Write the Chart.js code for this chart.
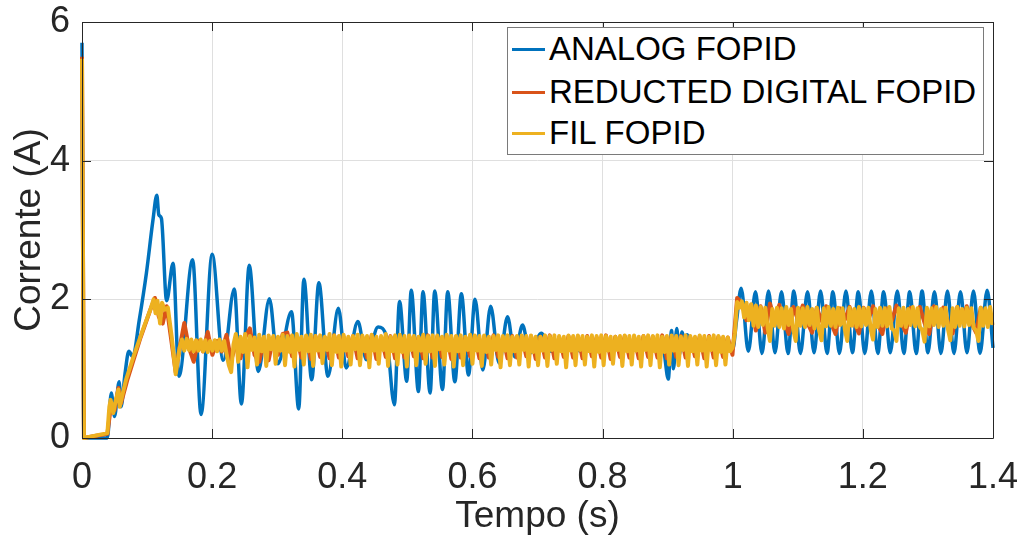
<!DOCTYPE html>
<html lang="pt">
<head>
<meta charset="utf-8">
<title>Corrente - FOPID</title>
<script src="https://cdn.jsdelivr.net/npm/chart.js@4.4.1/dist/chart.umd.min.js"></script>
<style>
    html, body { margin: 0; padding: 0; background: #fff; }
    #area { position: relative; width: 1025px; height: 544px; }
    #legenda {
        position: absolute; left: 507px; top: 27px; width: 475px; height: 126px;
        border: 1px solid #7a7a7a; background: #fff;
        font-family: "Liberation Sans", Arial, sans-serif; font-size: 33px; color: #000;
    }
    .item { position: absolute; left: 4px; height: 40px; display: flex; align-items: center; white-space: nowrap; }
    .linha { display: inline-block; width: 33px; height: 3px; margin-right: 4px; }
</style>
</head>
<body>
<div id="area">
    <canvas id="grafico" width="1025" height="544"></canvas>
    <div id="legenda"></div>
</div>
<script>
// --- Dados ---

const nomesSeries = ['ANALOG FOPID', 'REDUCTED DIGITAL FOPID', 'FIL FOPID'];
const coresSeries = ['#0072BD', '#D95319', '#EDB120'];

// FOPID analógico (picos e vales)
const tempoAnalog = [
    0, 0.003, 0.039, 0.045, 0.050, 0.057, 0.060, 0.066, 0.072, 0.078,
    0.088, 0.099, 0.109, 0.115, 0.118, 0.122, 0.130, 0.140, 0.149, 0.170,
    0.183, 0.200, 0.217, 0.234, 0.245, 0.257, 0.271, 0.288, 0.301, 0.322,
    0.333, 0.341, 0.353, 0.364, 0.378, 0.394, 0.406, 0.424, 0.437, 0.455,
    0.468, 0.480, 0.488, 0.499, 0.506, 0.517, 0.524, 0.535, 0.542, 0.554,
    0.562, 0.573, 0.583, 0.594, 0.604, 0.616, 0.628, 0.641, 0.654, 0.665,
    0.677, 0.688, 0.706, 0.720, 0.740, 0.760, 0.800, 0.850, 0.893, 0.901,
    0.906, 0.909, 0.914, 0.918, 0.922, 0.927, 0.930, 0.940, 0.970, 1.000,
    1.006, 1.013, 1.024, 1.035, 1.045, 1.055, 1.065, 1.075, 1.085, 1.094,
    1.104, 1.115, 1.125, 1.135, 1.145, 1.154, 1.164, 1.174, 1.184, 1.193,
    1.203, 1.213, 1.223, 1.232, 1.242, 1.253, 1.263, 1.272, 1.282, 1.291,
    1.300, 1.310, 1.320, 1.330, 1.340, 1.350, 1.360, 1.370, 1.380, 1.391,
    1.400
];
const correnteAnalog = [
    5.70, 0.00, 0.00, 0.65, 0.31, 0.81, 0.45, 0.92, 1.25, 1.17,
    1.70, 2.38, 3.14, 3.50, 3.22, 3.17, 1.98, 2.52, 0.89, 2.57,
    0.34, 2.65, 1.12, 2.15, 0.49, 2.49, 0.96, 2.01, 1.07, 1.82,
    0.42, 2.29, 0.84, 2.24, 0.89, 1.87, 1.01, 1.68, 1.13, 1.60,
    1.46, 0.48, 1.97, 0.82, 2.13, 0.67, 2.11, 0.65, 2.12, 0.70,
    2.11, 0.81, 2.08, 0.91, 2.00, 0.98, 1.90, 1.08, 1.75, 1.17,
    1.63, 1.22, 1.51, 1.25, 1.38, 1.26, 1.34, 1.30, 1.28, 0.85,
    1.55, 1.00, 1.58, 1.20, 1.53, 1.30, 1.49, 1.30, 1.32, 1.28,
    1.70, 2.16, 1.25, 2.11, 1.22, 2.12, 1.23, 2.11, 1.22, 2.12,
    1.22, 2.11, 1.23, 2.12, 1.22, 2.11, 1.22, 2.12, 1.23, 2.11,
    1.22, 2.12, 1.22, 2.11, 1.23, 2.12, 1.22, 2.11, 1.22, 2.12,
    1.23, 2.11, 1.22, 2.12, 1.22, 2.11, 1.23, 2.12, 1.22, 2.13,
    1.30
];

// FOPID digital reduzido: início (pontos lidos) + trecho de ondulação (amostrado a cada 7.2 ms)
const tempoRedInicio = [0, 0.003, 0.039, 0.045, 0.050, 0.056, 0.060, 0.070, 0.090, 0.105, 0.112, 0.118, 0.124, 0.130, 0.144];
const correnteRedInicio = [5.50, 0.00, 0.06, 0.50, 0.40, 0.72, 0.50, 0.85, 1.45, 1.85, 2.02, 1.75, 1.65, 1.90, 0.95];
const inicioRedRipple = 0.15;
const passoRedRipple = 0.0072;
const correnteRedRipple = [
    // 0.15 - 0.33
    1.30, 1.66, 1.30, 1.10, 1.40, 1.25, 1.53, 1.20, 1.40, 1.25,
    1.49, 1.12, 1.35, 1.15, 1.45, 1.58, 1.20, 1.10, 1.42, 1.12,
    1.45, 1.20, 1.50, 1.52, 1.18, 1.45,
    // 0.34 - 1.00
    1.16, 1.46, 1.14, 1.47, 1.17, 1.45, 1.15, 1.48, 1.16, 1.46,
    1.18, 1.47, 1.15, 1.46, 1.16, 1.48, 1.14, 1.45, 1.17, 1.47,
    1.15, 1.46, 1.16, 1.47, 1.18, 1.45, 1.15, 1.48, 1.16, 1.46,
    1.17, 1.47, 1.14, 1.46, 1.16, 1.45, 1.18, 1.47, 1.15, 1.46,
    1.16, 1.48, 1.17, 1.45, 1.15, 1.47, 1.16, 1.46, 1.18, 1.47,
    1.14, 1.46, 1.16, 1.48, 1.15, 1.45, 1.17, 1.47, 1.16, 1.46,
    1.15, 1.47, 1.18, 1.45, 1.16, 1.48, 1.14, 1.46, 1.17, 1.47,
    1.16, 1.45, 1.15, 1.47, 1.17, 1.46, 1.16, 1.48, 1.15, 1.46,
    1.17, 1.47, 1.16, 1.45, 1.18, 1.46, 1.15, 1.47, 1.16, 1.46,
    1.17, 1.45, 1.20,
    // 1.00 - 1.40 (degrau de carga)
    2.02, 1.95, 1.70, 1.92, 1.55, 1.90,
    1.52, 1.94, 1.72, 1.92, 1.68, 1.50,
    1.89, 1.70, 1.91, 1.66, 1.52, 1.88,
    1.69, 1.90, 1.67, 1.50, 1.87, 1.71,
    1.89, 1.66, 1.51, 1.88, 1.70, 1.90,
    1.65, 1.50, 1.87, 1.69, 1.91, 1.67,
    1.52, 1.88, 1.70, 1.89, 1.66, 1.50,
    1.90, 1.68, 1.88, 1.67, 1.51, 1.89,
    1.70, 1.90, 1.66, 1.52, 1.88, 1.69, 1.86
];

// FIL FOPID: início (pontos lidos) + trecho de ondulação (amostrado a cada 3.6 ms)
const tempoFilInicio = [0, 0.003, 0.039, 0.042, 0.044, 0.048, 0.052, 0.056, 0.058, 0.062, 0.068, 0.080, 0.095, 0.105, 0.110, 0.113, 0.116, 0.120, 0.123, 0.127, 0.132, 0.138, 0.144];
const correnteFilInicio = [5.47, 0.00, 0.07, 0.45, 0.55, 0.36, 0.55, 0.70, 0.45, 0.62, 0.85, 1.20, 1.60, 1.85, 2.00, 1.80, 1.98, 1.65, 1.95, 1.85, 1.88, 1.45, 0.92];
const inicioFilRipple = 0.15;
const passoFilRipple = 0.0036;
const correnteFilRipple = [
    // 0.15 - 0.24
    1.30, 1.42, 1.26, 1.43, 1.27, 1.42, 1.25, 1.41, 1.26, 1.42,
    1.25, 1.41, 1.24, 1.40, 1.26, 1.41, 1.25, 1.42, 1.26, 1.40,
    1.22, 1.05, 0.95, 1.35, 1.50, 1.10,
    // 0.24 - 1.00
    1.46, 1.24, 1.50, 1.02, 1.47, 1.27, 1.45, 1.06,
    1.49, 1.25, 1.46, 1.04, 1.48, 1.28, 1.47, 1.07,
    1.46, 1.26, 1.49, 1.05, 1.47, 1.24, 1.48, 1.03,
    1.50, 1.27, 1.46, 1.06, 1.48, 1.25, 1.49, 1.04,
    1.47, 1.26, 1.48, 1.08, 1.46, 1.27, 1.50, 1.05,
    1.48, 1.24, 1.47, 1.03, 1.49, 1.26, 1.46, 1.06,
    1.47, 1.28, 1.49, 1.05, 1.48, 1.25, 1.47, 1.02,
    1.49, 1.26, 1.46, 1.07, 1.47, 1.27, 1.50, 1.04,
    1.46, 1.25, 1.48, 1.06, 1.49, 1.24, 1.47, 1.03,
    1.48, 1.27, 1.47, 1.05, 1.46, 1.26, 1.49, 1.07,
    1.47, 1.25, 1.48, 1.04, 1.48, 1.28, 1.46, 1.06,
    1.49, 1.26, 1.47, 1.03, 1.47, 1.25, 1.48, 1.05,
    1.46, 1.27, 1.49, 1.07, 1.48, 1.26, 1.47, 1.04,
    1.48, 1.24, 1.46, 1.06, 1.47, 1.27, 1.48, 1.02,
    1.47, 1.26, 1.48, 1.05, 1.46, 1.25, 1.47, 1.06,
    1.48, 1.27, 1.47, 1.03, 1.48, 1.24, 1.46, 1.05,
    1.46, 1.26, 1.48, 1.04, 1.47, 1.27, 1.48, 1.07,
    1.47, 1.25, 1.46, 1.02, 1.48, 1.26, 1.47, 1.05,
    1.48, 1.27, 1.47, 1.06, 1.46, 1.25, 1.48, 1.03,
    1.47, 1.24, 1.48, 1.05, 1.47, 1.26, 1.46, 1.07,
    1.46, 1.27, 1.47, 1.04, 1.48, 1.25, 1.47, 1.06,
    1.48, 1.26, 1.46, 1.03, 1.47, 1.27, 1.48, 1.05,
    1.47, 1.25, 1.48, 1.02, 1.46, 1.24, 1.47, 1.06,
    1.48, 1.26, 1.47, 1.05, 1.46, 1.27, 1.48, 1.04,
    1.47, 1.25, 1.46, 1.06, 1.48, 1.26, 1.47, 1.03,
    1.46, 1.27, 1.48, 1.05, 1.47, 1.24, 1.46, 1.06,
    1.45, 1.25, 1.30,
    // 1.00 - 1.40 (degrau de carga)
    1.50, 1.96, 1.88, 1.97, 1.74, 1.95, 1.70, 1.93, 1.62, 1.91,
    1.60, 1.89, 1.63, 1.88, 1.60, 1.40, 1.86, 1.62, 1.88, 1.60,
    1.87, 1.58, 1.89, 1.63, 1.86, 1.55, 1.40,
    1.88, 1.62, 1.87, 1.60, 1.89, 1.63, 1.86, 1.58, 1.88, 1.55, 1.41,
    1.87, 1.61, 1.89, 1.62, 1.86, 1.60, 1.88, 1.63, 1.87, 1.56, 1.40,
    1.88, 1.62, 1.86, 1.60, 1.89, 1.61, 1.87, 1.63, 1.88, 1.57, 1.42,
    1.86, 1.60, 1.88, 1.62, 1.87, 1.61, 1.89, 1.58, 1.55, 1.40,
    1.87, 1.62, 1.88, 1.60, 1.86, 1.63, 1.89, 1.61, 1.87, 1.60, 1.56, 1.39,
    1.88, 1.61, 1.87, 1.63, 1.89, 1.60, 1.86, 1.62, 1.88, 1.57, 1.41,
    1.87, 1.60, 1.89, 1.62, 1.86, 1.61, 1.88, 1.63, 1.87, 1.59, 1.55, 1.40,
    1.88, 1.62, 1.87, 1.60, 1.89, 1.63
];

// Eixos
const eixoX = { min: 0, max: 1.4, passo: 0.2, titulo: 'Tempo (s)' };
const eixoY = { min: 0, max: 6, passo: 2, titulo: 'Corrente (A)' };

// --- Funções auxiliares ---
function montarPontos(tempos, valores) {
    return tempos.map((t, i) => ({ x: t, y: valores[i] }));
}

// trecho amostrado com passo fixo (tempo de amostragem da simulação)
function montarRipple(inicio, passo, valores) {
    return valores.map((v, i) => ({ x: +(inicio + i * passo).toFixed(4), y: v }));
}

// Legenda em HTML, dentro da área do gráfico (como no MATLAB)
function montarLegenda() {
    const caixa = document.getElementById('legenda');
    const topos = [1, 44, 85];
    nomesSeries.forEach((nome, i) => {
        const item = document.createElement('div');
        item.className = 'item';
        item.style.top = topos[i] + 'px';
        item.innerHTML = `<span class="linha" style="background:${coresSeries[i]}"></span><span>${nome}</span>`;
        caixa.appendChild(item);
    });
}

// Plugin para a caixa dos eixos com ticks para dentro (estilo MATLAB)
const pluginCaixa = {
    id: 'caixaEixos',
    afterDraw: (chart) => {
        const { ctx, chartArea: a, scales } = chart;
        const tam = 9;
        ctx.save();
        ctx.strokeStyle = '#262626';
        ctx.lineWidth = 1;
        ctx.beginPath();
        ctx.rect(Math.round(a.left) + 0.5, Math.round(a.top) + 0.5, Math.round(a.right - a.left), Math.round(a.bottom - a.top));
        scales.x.ticks.forEach(t => {
            const px = Math.round(scales.x.getPixelForValue(t.value)) + 0.5;
            ctx.moveTo(px, a.bottom); ctx.lineTo(px, a.bottom - tam);
            ctx.moveTo(px, a.top); ctx.lineTo(px, a.top + tam);
        });
        scales.y.ticks.forEach(t => {
            const py = Math.round(scales.y.getPixelForValue(t.value)) + 0.5;
            ctx.moveTo(a.left, py); ctx.lineTo(a.left + tam, py);
            ctx.moveTo(a.right, py); ctx.lineTo(a.right - tam, py);
        });
        ctx.stroke();
        ctx.restore();
    }
};

Chart.defaults.font.family = "'Liberation Sans', Arial, sans-serif";
Chart.defaults.color = '#262626';

const serieComum = {
    borderWidth: 4,
    pointRadius: 0,
    fill: false,
    borderJoinStyle: 'round',
    tension: 0,
    clip: 3 // deixa a espessura da linha aparecer sobre as bordas (x = 0 e y = 0)
};

const grafico = new Chart(document.getElementById('grafico').getContext('2d'), {
    type: 'line',
    data: {
        datasets: [
            {
                ...serieComum,
                label: nomesSeries[0],
                data: montarPontos(tempoAnalog, correnteAnalog),
                borderColor: coresSeries[0],
                borderWidth: 3.5,
                cubicInterpolationMode: 'monotone',
                order: 3
            },
            {
                ...serieComum,
                label: nomesSeries[1],
                data: montarPontos(tempoRedInicio, correnteRedInicio)
                    .concat(montarRipple(inicioRedRipple, passoRedRipple, correnteRedRipple)),
                borderColor: coresSeries[1],
                order: 2
            },
            {
                ...serieComum,
                label: nomesSeries[2],
                data: montarPontos(tempoFilInicio, correnteFilInicio)
                    .concat(montarRipple(inicioFilRipple, passoFilRipple, correnteFilRipple)),
                borderColor: coresSeries[2],
                order: 1
            }
        ]
    },
    options: {
        responsive: false,
        animation: false,
        events: [],
        parsing: false,
        layout: { padding: { top: 22, right: 32, bottom: 0, left: 0 } },
        plugins: {
            legend: { display: false },
            tooltip: { enabled: false }
        },
        scales: {
            x: {
                type: 'linear',
                min: eixoX.min,
                max: eixoX.max,
                // área do gráfico fixa, sem a folga automática dos rótulos
                afterFit: (s) => { s.height = 106; s.paddingLeft = 0; s.paddingRight = 0; },
                border: { display: false },
                grid: { color: '#dfdfdf', drawTicks: false },
                ticks: {
                    stepSize: eixoX.passo,
                    padding: 18,
                    maxRotation: 0,
                    autoSkip: false,
                    font: { size: 36 },
                    callback: (v) => Number(v.toFixed(1)).toString()
                },
                title: {
                    display: true,
                    text: eixoX.titulo,
                    font: { size: 37 },
                    padding: { top: 0, bottom: 5 }
                }
            },
            y: {
                min: eixoY.min,
                max: eixoY.max,
                afterFit: (s) => { s.width = 82; s.paddingTop = 0; s.paddingBottom = 0; },
                border: { display: false },
                grid: { color: '#dfdfdf', drawTicks: false },
                ticks: {
                    stepSize: eixoY.passo,
                    padding: 12,
                    font: { size: 36 }
                },
                title: {
                    display: true,
                    text: eixoY.titulo,
                    font: { size: 37 },
                    padding: { top: 8, bottom: 0 }
                }
            }
        }
    },
    plugins: [pluginCaixa]
});

montarLegenda();
</script>
</body>
</html>
